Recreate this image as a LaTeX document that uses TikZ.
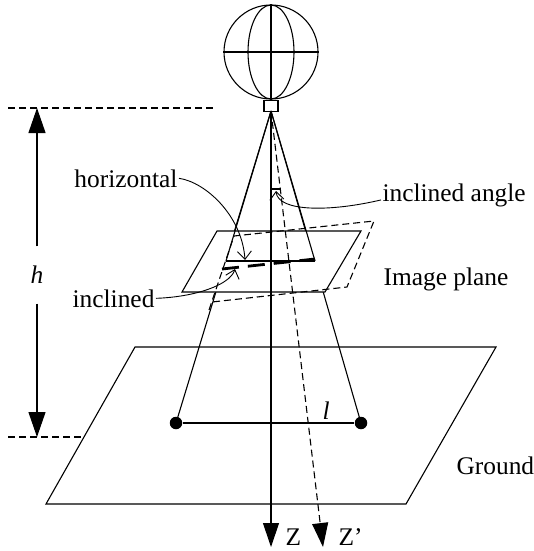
\documentclass[tikz,border=0pt]{standalone}
\usepackage{fontspec}
\setmainfont{Liberation Serif}
\usetikzlibrary{arrows.meta}
\begin{document}
\begin{tikzpicture}[x=1pt,y=-1pt,line width=1.1pt,
  every node/.style={inner sep=0pt,font=\fontsize{25.4}{30}\selectfont},
  lbl/.style={anchor=base west},
  lblr/.style={anchor=base east},
  dimtip/.style={-{Triangle[length=25pt,width=17pt]}},
  axis/.style={-{Triangle[length=24pt,width=16pt]}},
  pointer/.style={line width=0.9pt,-{Straight Barb[length=8pt,width=14pt,line width=0.9pt]}},
  dsh/.style={dash pattern=on 7pt off 4pt},
  dot/.style={circle,fill=black,minimum size=12.5pt}]
\useasboundingbox (0,0) rectangle (534,551);

% key points
\coordinate (apex) at (271,111);
\coordinate (hl) at (226,261);
\coordinate (hr) at (315,261);
\coordinate (il) at (222,269);
\coordinate (ir) at (315,259);
\coordinate (zend) at (271,547);
\coordinate (zpend) at (323,547);
\coordinate (angA) at (271,189);
\coordinate (angB) at (280,189);

% balloon with its gondola
\node[circle,draw,minimum size=94pt] (ball) at (271,52) {};
\draw (ball.north) -- (ball.south);
\draw (ball.west) -- (ball.east);
\draw (271,52) ellipse [x radius=23, y radius=47];
\node[draw,minimum width=14pt,minimum height=11pt,anchor=north] (gond) at (ball.south) {};

% ground plane
\draw (135,347) -- (496,347) -- (406,504) -- (46,504) -- cycle;

% ground points and their baseline
\node[dot] (dotL) at (176,423) {};
\node[dot] (dotR) at (361,423) {};
\draw (dotL) -- (dotR);
\node[lbl] (ell) at (322,419) {\itshape l};

% viewing rays
\draw (apex) -- (dotL.center);
\draw (apex) -- (dotR.center);

% horizontal image plane (opaque)
\draw[fill=white] (217,231) -- (361,231) -- (325,292) -- (182,292) -- cycle;
\draw (apex) -- (hl);
\draw (apex) -- (hr);

% inclined image plane
\draw[dsh] (209,310) -- (234,236) -- (374,221) -- (347,287) -- (212,302);

% optical axes
\draw[axis] (apex) -- (zend);
\draw[axis,dsh] (apex) -- (zpend);
\node[lbl] (zl) at (285,545) {Z};
\node[lbl] (zpl) at (338,545) {Z’};
\draw (angA) -- (angB);

% projected segments
\draw[line width=2.6pt] (hl) -- (hr);
\draw[line width=2.8pt,dash pattern=on 17pt off 9pt] (il) -- (ir);

% labels with pointers
\node[lblr] (hor) at (178,187) {horizontal};
\node[lblr] (inc) at (155,307) {inclined};
\node[lbl] (iang) at (382,201) {inclined angle};
\node[lbl] (iplane) at (383,285) {Image plane};
\node[lbl] (gnd) at (456,474) {Ground};
\coordinate (hortip) at (245,260);
\coordinate (inctip) at (235,269);
\coordinate (angtip) at (276,191);
\draw[pointer] ([xshift=1pt]hor.east) .. controls (205,182) and (242,215) .. (hortip);
\draw[pointer] ([xshift=1pt]inc.east) .. controls (195,297) and (230,285) .. (inctip);
\draw[pointer] ([xshift=-1pt,yshift=-5pt]iang.west) .. controls (330,212) and (278,212) .. (angtip);

% height dimension
\coordinate (htop) at (37,108);
\coordinate (hbot) at (37,437);
\draw[dsh] (8,108) -- (213,108);
\draw[dsh] (8,437) -- (83,437);
\node[minimum height=56pt] (hlab) at (37,275) {\itshape h};
\draw[dimtip] (hlab.north) -- (htop);
\draw[dimtip] (hlab.south) -- (hbot);
\end{tikzpicture}
\end{document}
